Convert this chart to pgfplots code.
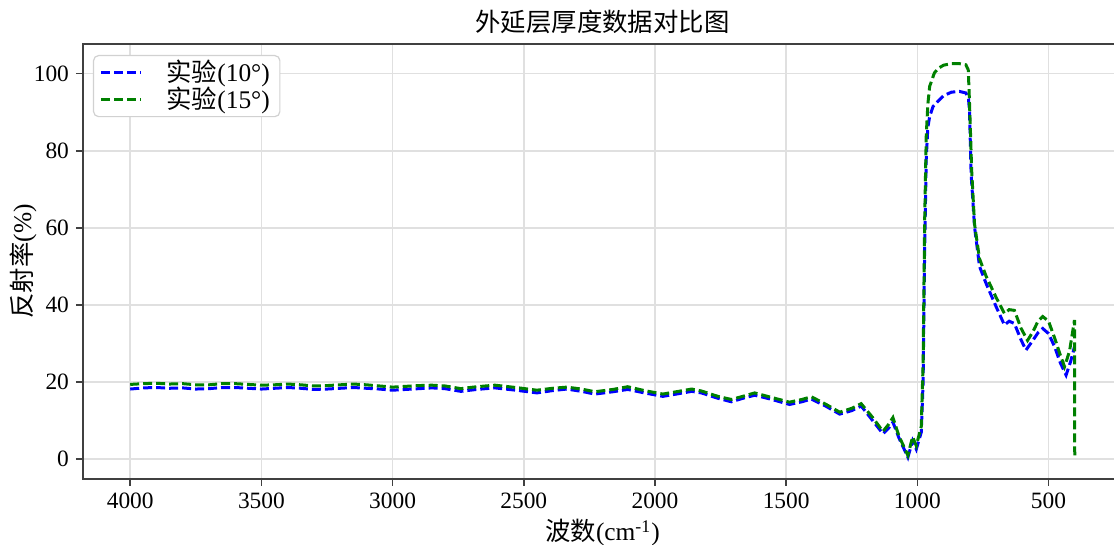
\documentclass[border=0pt]{standalone}
\usepackage{fontspec}
\setmainfont{Liberation Serif}
\newfontfamily\cjk{Noto Sans CJK SC}
\usepackage{pgfplots}
\pgfplotsset{compat=1.18}
\usetikzlibrary{calc}
\begin{document}
\begin{tikzpicture}
\begin{axis}[
  scale only axis, width=519.5pt, height=217.5pt,
  x dir=reverse, xmin=220, xmax=4180, ymin=-5.13, ymax=107.7,
  xtick={500,1000,...,4000}, ytick={0,20,...,100},
  tick align=outside, xtick pos=bottom, ytick pos=left,
  major tick length=3.5pt,
  grid=major, major grid style={black!12, line width=0.8pt},
  axis line style={black!75, line width=0.9pt},
  tick style={black!75, line width=0.8pt},
  ticklabel style={font=\fontsize{11.7}{14}\selectfont},
  /pgf/number format/assume math mode=true,
  /pgf/number format/1000 sep={},
  title={\cjk 外延层厚度数据对比图},
  title style={font=\fontsize{12.7}{15}\selectfont, at={(0.5,1)}, anchor=center, yshift=5pt},
  xlabel={{\cjk 波数}(cm\textsuperscript{-1})},
  ylabel={{\cjk 反射率}(\%)},
  every axis x label/.style={at={(rel axis cs:0.5,0)}, anchor=center, yshift=-27pt},
  every axis y label/.style={at={(rel axis cs:0,0.5)}, xshift=-30pt, rotate=90, anchor=center},
  label style={font=\fontsize{12.7}{15}\selectfont},
  legend style={at={(0,1)}, anchor=north west, xshift=5pt, yshift=-5.5pt,
    draw=black!18, line width=0.6pt, rounded corners=2.5pt, fill=white,
    font=\fontsize{12.7}{14}\selectfont, inner xsep=3pt, inner ysep=1.8pt, row sep=0pt,
    nodes={inner ysep=0.6pt},
    /tikz/every odd column/.append style={column sep=10pt}},
  legend cell align=left,
  legend image code/.code={\draw[#1] (0pt,0pt) -- (20pt,0pt);},
]
\addplot[blue, line width=1.5pt, dash pattern=on 4.5pt off 2pt] coordinates {
(4000,18.2)(3950,18.5)(3900,18.6)(3850,18.4)(3800,18.5)(3750,18.2)(3700,18.3)(3650,18.6)(3600,18.6)(3550,18.4)(3500,18.2)(3450,18.4)(3400,18.6)(3350,18.4)(3300,18.1)(3250,18.2)(3200,18.4)(3150,18.6)(3100,18.4)(3050,18.2)(3000,17.9)(2950,18.1)(2900,18.3)(2850,18.5)(2800,18.3)(2740,17.6)(2680,18.1)(2610,18.5)(2530,17.9)(2450,17.2)(2390,17.8)(2336,18.2)(2280,17.6)(2229,16.9)(2160,17.5)(2104,18.1)(2040,17.2)(1970,16.3)(1910,17.0)(1860,17.6)(1823,17.2)(1760,15.8)(1709,14.9)(1660,15.9)(1620,16.6)(1560,15.6)(1487,14.2)(1440,14.9)(1404,15.6)(1350,13.8)(1296,11.7)(1250,12.6)(1214,13.8)(1170,10.0)(1131,6.6)(1110,8.0)(1093,9.6)(1070,5.5)(1036,0.5)(1018,4.8)(1004,2.6)(985,7.0)(978,20)(972,55)(966,78)(960,86)(953,88.9)(940,91.5)(922,92.8)(900,94.3)(870,95.2)(840,95.4)(815,95.0)(805,93.5)(801,90)(795,74)(782,60.3)(763,50)(738,45.6)(700,39.6)(668,34.8)(650,35.8)(630,35.2)(605,31)(586,28.3)(560,30.8)(540,32.8)(522,33.9)(500,32.6)(477,29.2)(455,25)(433,21.8)(415,25.5)(401,29.2)
};
\addlegendentry{{\cjk 实验}(10°)}
\addplot[black!50!green, line width=1.5pt, dash pattern=on 4.5pt off 2pt] coordinates {
(4000,19.4)(3950,19.6)(3900,19.7)(3850,19.5)(3800,19.6)(3750,19.3)(3700,19.3)(3650,19.6)(3600,19.6)(3550,19.4)(3500,19.2)(3450,19.3)(3400,19.5)(3350,19.3)(3300,19.0)(3250,19.1)(3200,19.3)(3150,19.5)(3100,19.3)(3050,19.0)(3000,18.7)(2950,18.9)(2900,19.1)(2850,19.2)(2800,19.0)(2740,18.3)(2680,18.8)(2610,19.2)(2530,18.6)(2450,17.9)(2390,18.4)(2336,18.7)(2280,18.2)(2229,17.5)(2160,18.1)(2104,18.8)(2040,17.8)(1970,16.9)(1910,17.6)(1860,18.2)(1823,17.7)(1760,16.3)(1709,15.5)(1660,16.4)(1620,17.2)(1560,16.1)(1487,14.8)(1440,15.5)(1404,16.2)(1350,14.3)(1296,12.2)(1250,13.2)(1214,14.4)(1170,10.8)(1131,7.2)(1110,9.0)(1093,10.8)(1070,6.0)(1036,1.0)(1018,5.8)(1004,3.5)(985,8.5)(978,25)(972,62)(966,84)(960,92)(953,96.7)(935,100.2)(920,101.4)(900,102.2)(870,102.6)(840,102.6)(815,102.3)(806,101)(803,96)(798,86)(793,75)(782,61)(763,52)(738,47.5)(700,42)(668,37.8)(650,38.8)(630,38.6)(605,34)(580,30.8)(560,33)(540,35.8)(522,37.0)(500,35.8)(477,31.5)(455,27)(439,24.0)(420,28)(401,36.1)(400,0.2)
};
\addlegendentry{{\cjk 实验}(15°)}
\end{axis}
\pgfresetboundingbox
\path ($(current axis.south west)+(-41.5pt,-33pt)$) rectangle ($(current axis.north east)+(-4pt,22pt)$);
\end{tikzpicture}
\end{document}
